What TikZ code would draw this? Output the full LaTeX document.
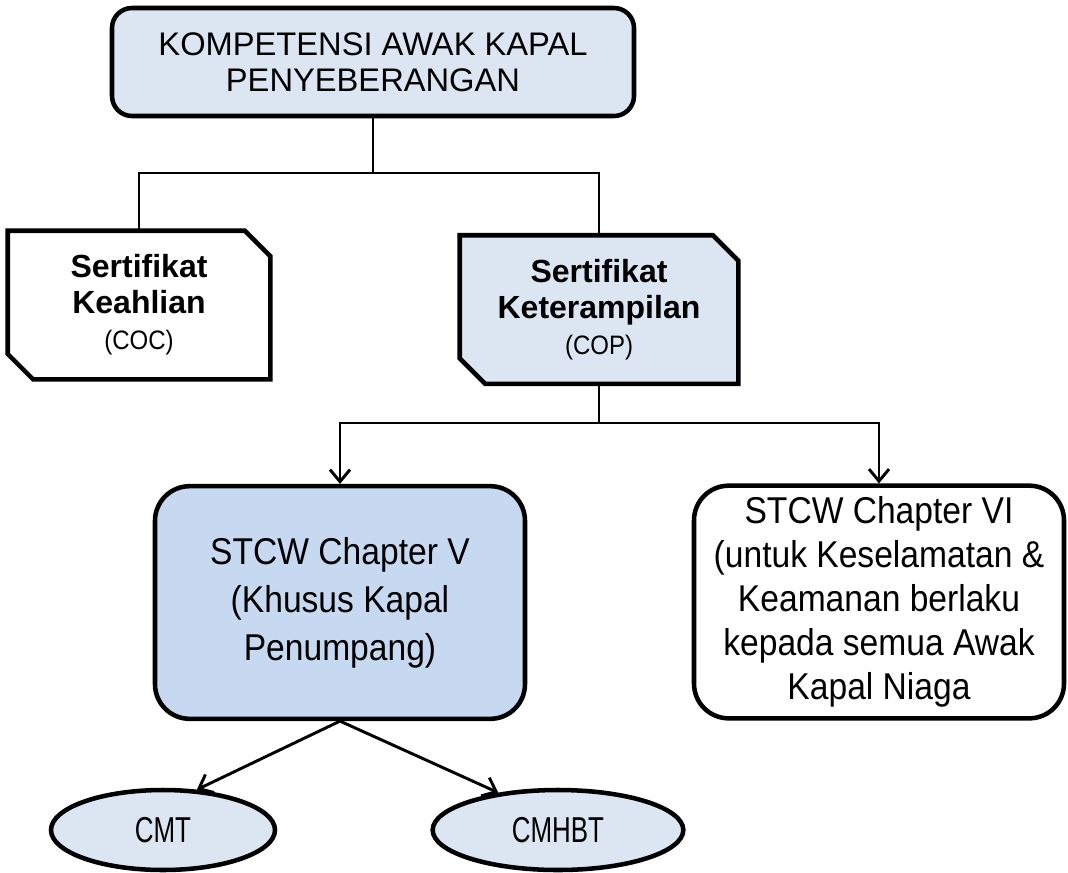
\documentclass[tikz,border=0pt]{standalone}
\usepackage{fontspec}
\setmainfont{Liberation Sans}
\newfontfamily\narrowfont[FakeStretch=0.9]{Liberation Sans}
\newfontfamily\condfont[FakeStretch=0.72]{Liberation Sans}
\usetikzlibrary{arrows.meta,shapes.geometric,backgrounds}

\definecolor{paleblue}{HTML}{DCE6F2}
\definecolor{midblue}{HTML}{C6D9F1}

\tikzset{
  topbox/.style={draw, line width=3.4pt, rounded corners=15pt, fill=paleblue,
    minimum width=391.5pt, minimum height=81pt, align=center,
    font=\fontsize{24.5}{27}\selectfont},
  certbox/.style={minimum height=111pt, inner sep=0pt, align=center,
    font=\fontsize{24}{27}\selectfont\bfseries},
  chapbox/.style={draw, line width=3.4pt, rounded corners=26pt,
    minimum width=277.5pt, minimum height=174.5pt, align=center,
    font=\narrowfont\fontsize{28}{33}\selectfont},
  pill/.style={ellipse, draw, line width=3.4pt, fill=paleblue,
    minimum height=60pt, inner sep=0pt, font=\condfont\fontsize{27}{28}\selectfont},
  link/.style={line width=2.2pt},
}
\newcommand{\certsub}[1]{{\narrowfont\mdseries\fontsize{20}{27}\selectfont(#1)}}

\begin{document}
\begin{tikzpicture}[x=0.75pt, y=-0.75pt, >={Straight Barb[length=9pt,width=15pt]}]
    \useasboundingbox (0,0) rectangle (1068,872);

    % Top title
    \node[topbox] (top) at (373,62) {KOMPETENSI AWAK KAPAL\\PENYEBERANGAN};

    % Certificates
    \node[certbox, minimum width=196.5pt] (coc) at (139,305)
        {Sertifikat\\Keahlian\\\certsub{COC}};
    \node[certbox, minimum width=208.5pt] (cop) at (599,309.5)
        {Sertifikat\\Keterampilan\\\certsub{COP}};
    \begin{scope}[on background layer]
        \foreach \n/\c in {coc/white, cop/paleblue}
            \filldraw[fill=\c, line width=3.4pt] (\n.north west)
                -- ([xshift=-19pt]\n.north east) -- ([yshift=-19pt]\n.north east)
                -- (\n.south east) -- ([xshift=19pt]\n.south west)
                -- ([yshift=19pt]\n.south west) -- cycle;
    \end{scope}

    % STCW chapters
    \node[chapbox, fill=midblue, font=\narrowfont\fontsize{28}{36}\selectfont] (ch5) at (340,602.5)
        {STCW Chapter V\\(Khusus Kapal\\Penumpang)};
    \node[chapbox, fill=white] (ch6) at (879,602)
        {STCW Chapter VI\\(untuk Keselamatan \&\\Keamanan berlaku\\kepada semua Awak\\Kapal Niaga};

    % Courses
    \node[pill, minimum width=168pt] (cmt) at (163,830) {CMT};
    \node[pill, minimum width=188pt] (cmhbt) at (558,830) {CMHBT};

    % Connectors
    \coordinate (j1) at (373,173);
    \coordinate (j2) at (599,423);
    \draw[link] (top.south) -- (j1) -| (coc.north);
    \draw[link] (j1) -| (cop.north);
    \draw[link] (cop.south) -- (j2);
    \draw[link, ->] (j2) -| (ch5.north);
    \draw[link, ->] (j2) -| (ch6.north);
    \draw[link, ->] (ch5.south) -- (cmt.50);
    \draw[link, ->] (ch5.south) -- (cmhbt.148);
\end{tikzpicture}
\end{document}
